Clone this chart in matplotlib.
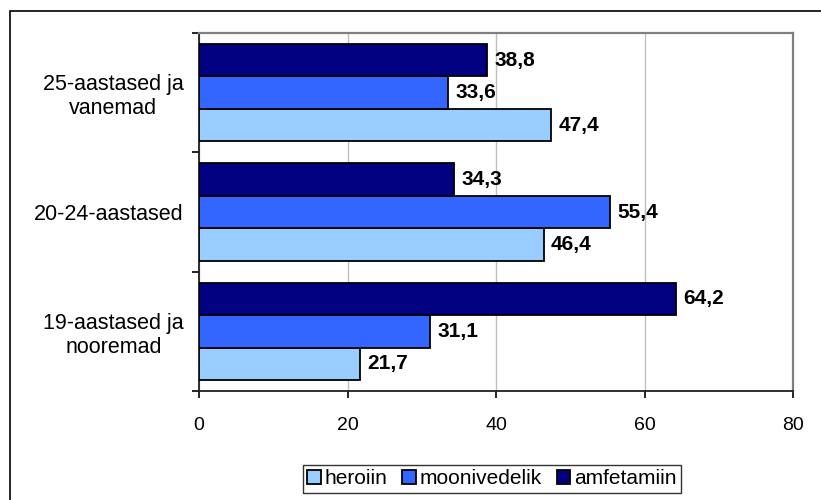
import matplotlib
matplotlib.use("Agg")
import matplotlib.pyplot as plt
from matplotlib.patches import Rectangle
import numpy as np

categories = ["19-aastased ja\nnooremad", "20-24-aastased", "25-aastased ja\nvanemad"]
series_names = ["heroiin", "moonivedelik", "amfetamiin"]
heroiin = [21.7, 46.4, 47.4]
moonivedelik = [31.1, 55.4, 33.6]
amfetamiin = [64.2, 34.3, 38.8]
colors = ["#99CCFF", "#3366FF", "#000080"]
xticks = [0, 20, 40, 60, 80]

plt.rcParams['font.family'] = ['Liberation Sans', 'DejaVu Sans']

fig = plt.figure(figsize=(8.21, 5.0), dpi=100)
# outer frame
fig.patches.append(Rectangle((10/821, -0.1), 1.2, 1 - 11/500 + 0.1, transform=fig.transFigure,
                             fill=False, edgecolor='black', linewidth=1.2))
ax = fig.add_axes([199/821, 1 - 391/500, 594/821, 358/500])

y = np.arange(len(categories))
h = 0.272
all_series = [heroiin, moonivedelik, amfetamiin]
offsets = [-h, 0, h]
for vals, off, c, name in zip(all_series, offsets, colors, series_names):
    ax.barh(y + off, vals, height=h, color=c, edgecolor='black', linewidth=1.3, label=name, zorder=3)
    for yy, v in zip(y + off, vals):
        ax.text(v + 1.0, yy, f"{v:.1f}".replace('.', ','), va='center', ha='left',
                fontsize=15, fontweight='bold', zorder=4)

ax.set_xlim(0, 80)
ax.set_ylim(-0.5, 2.5)
ax.set_xticks(xticks)
ax.set_xticklabels([str(t) for t in xticks], fontsize=14)
ax.set_yticks([-0.5, 0.5, 1.5, 2.5], minor=False)
ax.set_yticklabels([])
ax.set_yticks(y, minor=True)
ax.set_yticklabels(categories, minor=True, fontsize=15.5,
                   multialignment='center', linespacing=1.2)
ax.tick_params(axis='y', which='minor', length=0, pad=11)
ax.tick_params(axis='y', which='major', length=5, direction='out', width=1.2)
ax.tick_params(axis='x', length=5, direction='out', width=1.2, pad=14)
ax.xaxis.grid(True, color='#c0c0c0', linewidth=1, zorder=0)
for s in ['top', 'right']:
    ax.spines[s].set_color('#808080')
    ax.spines[s].set_linewidth(1.6)
for s in ['left', 'bottom']:
    ax.spines[s].set_color('#202020')
    ax.spines[s].set_linewidth(1.3)

leg = fig.legend(loc='center', bbox_to_anchor=(492/821, 1 - 479/500), ncol=3, fontsize=15,
                 frameon=True, fancybox=False, edgecolor='black', handlelength=0.65, handleheight=0.65,
                 handletextpad=0.2, columnspacing=0.7, borderpad=0.2, borderaxespad=0)
leg.get_frame().set_linewidth(1)

fig.savefig("out.png", dpi=100)
